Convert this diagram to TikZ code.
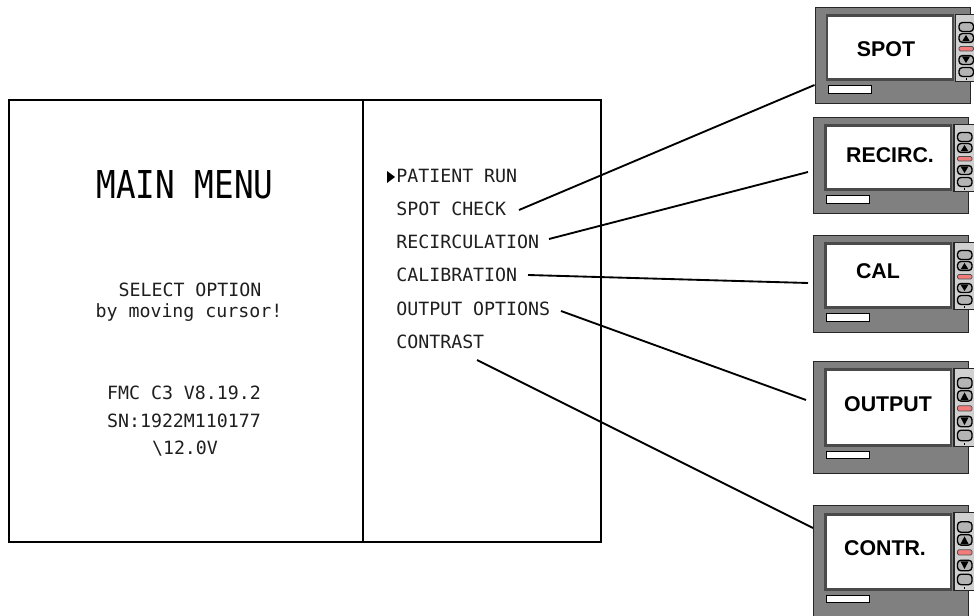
\documentclass[tikz,border=0pt]{standalone}
\usepackage{fontspec}
\setmainfont{Liberation Sans}
\newfontfamily\lcdfont{DejaVu Sans Mono}
\definecolor{casegray}{HTML}{808080}
\definecolor{framegray}{HTML}{4A4A4A}
\definecolor{panelgray}{HTML}{D0D0D0}
\definecolor{btngray}{HTML}{B4B4B4}
\definecolor{redbar}{HTML}{F27C7C}
\tikzset{
  lcd/.style={font=\lcdfont\fontsize{13.7}{16}\selectfont,text=black!88,inner sep=0pt},
  lcdleft/.style={lcd,anchor=base west},
  lcdmid/.style={lcd,anchor=base},
  title/.style={font=\lcdfont\fontsize{28.8}{30}\selectfont,text=black,inner sep=0pt,anchor=base,xscale=.85,transform shape},
  monlabel/.style={font=\bfseries\fontsize{16}{18}\selectfont,text=black,inner sep=0pt},
  frameline/.style={draw=black,line width=1.3pt},
  link/.style={draw=black,line width=1.4pt},
  caseshape/.style={draw=black!85,line width=.75pt,fill=casegray,anchor=north west,inner sep=0pt},
  btn/.style={draw=black,line width=1pt,fill=btngray,rounded corners=2.6pt},
}
% id, x, top, outer height, frame height, label x, label y, label
\newcommand{\monitor}[8]{%
  \node[caseshape,minimum width={155*.75pt},minimum height={#4*.75pt}] (#1) at (#2,#3) {};
  \begin{scope}[shift={(#2,#3)}]
    \fill[framegray] (11,7.5) rectangle (139,7.5+#5);
    \fill[white] (13.5,10.5) rectangle (137,4.5+#5);
    \draw[draw=black,fill=white,line width=.75pt] (13.5,12+#5) rectangle (56.5,19.5+#5);
    \draw[draw=black!85,line width=1.1pt,fill=panelgray] (141,7.5) rectangle (165,7.5+#5);
    \begin{scope}[shift={(141,7.5)},yscale=#5/67]
      \draw[btn] (3.5,8) rectangle (18,17);
      \draw[btn] (3.5,19) rectangle (18,28);
      \fill[black] (6.5,27) -- (14.5,27) -- (10.5,20.5) -- cycle;
      \draw[draw=black!70,fill=redbar,line width=.5pt,rounded corners=1pt] (3.5,32) rectangle (18,36.5);
      \draw[btn] (3.5,41) rectangle (18,50);
      \fill[black] (6.5,42) -- (14.5,42) -- (10.5,48.5) -- cycle;
      \draw[btn] (3.5,53) rectangle (18,62);
      \fill[black] (10,64) rectangle (11.4,65.4);
    \end{scope}
  \end{scope}
  \node[monlabel] (#1text) at (#6,#7) {#8};
}
\begin{document}
\begin{tikzpicture}[x=.75pt,y=-.75pt]
\useasboundingbox (0,0) rectangle (974,616);
\fill[white] (0,0) rectangle (974,616);

% main display
\node[frameline,anchor=north west,minimum width={592*.75pt},minimum height={442*.75pt},inner sep=0pt] (panel) at (8,99) {};
\coordinate (divtop) at (363,99);
\coordinate (divbot) at (363,541);
\draw[frameline] (divtop) -- (divbot);

\node[title] (title) at (185,199) {MAIN MENU};
\node[lcdmid] (sel) at (190,297) {SELECT OPTION};
\node[lcdmid] (mov) at (189,318) {by moving cursor!};
\node[lcdmid] (fmc) at (184,399) {FMC C3 V8.19.2};
\node[lcdmid] (sn) at (184,427) {SN:1922M110177};
\node[lcdmid] (volt) at (185,454) {\textbackslash 12.0V};

\fill[black] (387,171) -- (395,177) -- (387,183) -- cycle;
\node[lcdleft] (m1) at (396,183) {PATIENT RUN};
\node[lcdleft] (m2) at (396,216) {SPOT CHECK};
\node[lcdleft] (m3) at (396,249) {RECIRCULATION};
\node[lcdleft] (m4) at (396,282) {CALIBRATION};
\node[lcdleft] (m5) at (396,316) {OUTPUT OPTIONS};
\node[lcdleft] (m6) at (396,349) {CONTRAST};

% monitors
\monitor{spot}{814.5}{7}{96}{67}{886}{49}{SPOT}
\monitor{recirc}{813}{117}{96}{67}{890}{155}{RECIRC.}
\monitor{cal}{813}{235}{97}{67}{878}{271}{CAL}
\monitor{output}{813}{361}{112}{78}{888}{404}{OUTPUT}
\monitor{contr}{813}{505}{120}{78}{885}{548}{CONTR.}

% connector ends
\coordinate (s2) at (519,210);  \coordinate (e2) at (814.5,85);
\coordinate (s3) at (549,239);  \coordinate (e3) at (808,172);
\coordinate (s4) at (528,275);  \coordinate (e4) at (808,283);
\coordinate (s5) at (561,311);  \coordinate (e5) at (806,400);
\coordinate (s6) at (477,360);  \coordinate (e6) at (813,528);
\draw[link] (s2) -- (e2);
\draw[link] (s3) -- (e3);
\draw[link] (s4) -- (e4);
\draw[link] (s5) -- (e5);
\draw[link] (s6) -- (e6);
\end{tikzpicture}
\end{document}
